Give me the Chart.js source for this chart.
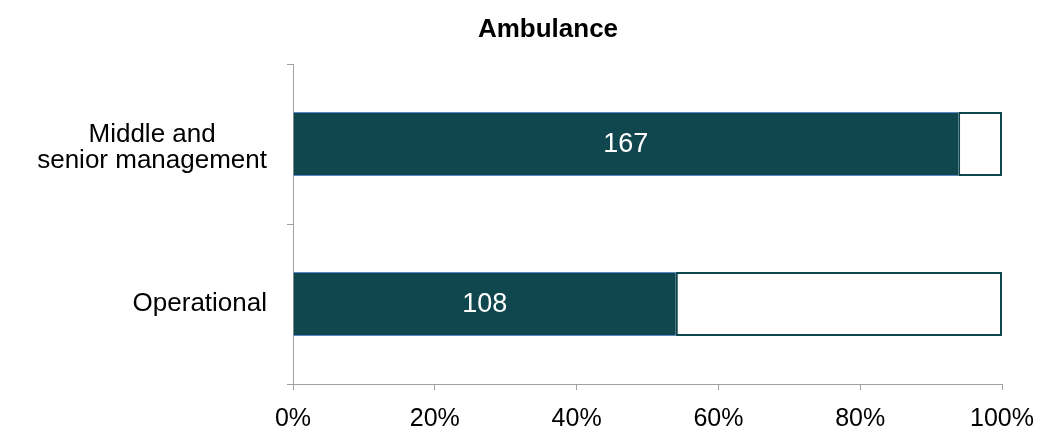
<!DOCTYPE html>
<html>
<head>
<meta charset="utf-8">
<script src="https://cdn.jsdelivr.net/npm/chart.js@4"></script>
<style>
html, body { margin: 0; padding: 0; background: #fff; }
#wrap { width: 1040px; height: 430px; }
</style>
</head>
<body>
<div id="wrap"><canvas id="chart" width="1040" height="430"></canvas></div>
<script>
// Données du graphique
const chartTitle = 'Ambulance';
const categories = [['Middle and', 'senior management'], 'Operational'];
const staffCounts = [167, 108];
const otherCounts = [11, 92];
const xTicks = [0, 20, 40, 60, 80, 100];

const FONT = "'Liberation Sans', Arial, sans-serif";
const DARK = '#10474F';
const AXIS = '#A0A0A0';

// Conversion en pourcentages (barres empilées à 100 %)
const totals = staffCounts.map((v, i) => v + otherCounts[i]);
const staffPct = staffCounts.map((v, i) => v / totals[i] * 100);
const otherPct = otherCounts.map((v, i) => v / totals[i] * 100);

// Titre, placé à la main au-dessus du graphique
const titlePlugin = {
  id: 'titlePlugin',
  afterDraw(chart) {
    const ctx = chart.ctx;
    ctx.save();
    ctx.font = 'bold 26px ' + FONT;
    ctx.fillStyle = '#000';
    ctx.textAlign = 'center';
    ctx.textBaseline = 'alphabetic';
    ctx.fillText(chartTitle, 548, 37);
    ctx.restore();
  }
};

// Étiquettes de l'axe Y (lignes centrées, bloc aligné à droite)
const yLabels = {
  id: 'yLabels',
  afterDraw(chart) {
    const ctx = chart.ctx;
    const y = chart.scales.y;
    const right = y.right - 26;
    ctx.save();
    ctx.font = '26px ' + FONT;
    ctx.fillStyle = '#000';
    ctx.textAlign = 'center';
    ctx.textBaseline = 'middle';
    categories.forEach((lab, i) => {
      const lines = Array.isArray(lab) ? lab : [lab];
      const w = Math.max(...lines.map(l => ctx.measureText(l).width));
      const cx = right - w / 2;
      const cy = y.getPixelForValue(i) + (lines.length > 1 ? 4 : 0);
      const lh = 26;
      lines.forEach((l, j) => {
        ctx.fillText(l, cx, cy + (j - (lines.length - 1) / 2) * lh);
      });
    });
    ctx.restore();
  }
};

// Valeurs affichées dans les barres foncées
const valueLabels = {
  id: 'valueLabels',
  afterDatasetsDraw(chart) {
    const ctx = chart.ctx;
    const meta = chart.getDatasetMeta(0);
    ctx.save();
    ctx.font = '27px ' + FONT;
    ctx.fillStyle = '#fff';
    ctx.textAlign = 'center';
    ctx.textBaseline = 'middle';
    meta.data.forEach((bar, i) => {
      ctx.fillText(String(staffCounts[i]), (bar.x + bar.base) / 2, bar.y + 1);
    });
    ctx.restore();
  }
};

let config = {
  type: 'bar',
  data: {
    labels: categories,
    datasets: [{
      data: staffPct,
      backgroundColor: DARK,
      borderColor: '#5b87c5',
      borderWidth: { top: 1, bottom: 1, left: 0, right: 0 },
      borderSkipped: false,
      barPercentage: 0.4,
      categoryPercentage: 1
    }, {
      data: otherPct,
      backgroundColor: '#fff',
      borderColor: DARK,
      borderWidth: 2,
      borderSkipped: false,
      barPercentage: 0.4,
      categoryPercentage: 1
    }]
  },
  options: {
    indexAxis: 'y',
    responsive: false,
    animation: false,
    devicePixelRatio: 1,
    layout: { padding: { left: 0, right: 38, top: 64, bottom: 0 } },
    scales: {
      x: {
        stacked: true,
        min: 0,
        max: 100,
        afterBuildTicks(scale) {
          scale.ticks = xTicks.map(v => ({ value: v }));
        },
        afterFit(scale) {
          scale.height = 46;
          scale.paddingLeft = 0;
          scale.paddingRight = 0;
        },
        grid: { drawOnChartArea: false, color: AXIS, tickLength: 6 },
        border: { color: AXIS, width: 1 },
        ticks: {
          color: '#000',
          font: { family: FONT, size: 25 },
          padding: 14,
          maxRotation: 0,
          callback: v => v + '%'
        }
      },
      y: {
        stacked: true,
        afterFit(scale) { scale.width = 293; },
        grid: { offset: true, drawOnChartArea: false, color: AXIS, tickLength: 6 },
        border: { color: AXIS, width: 1 },
        ticks: { display: false }
      }
    },
    plugins: {
      title: { display: false },
      legend: { display: false },
      tooltip: { enabled: false }
    }
  },
  plugins: [titlePlugin, yLabels, valueLabels]
};

const chart = new Chart(document.getElementById('chart').getContext('2d'), config);
</script>
</body>
</html>
